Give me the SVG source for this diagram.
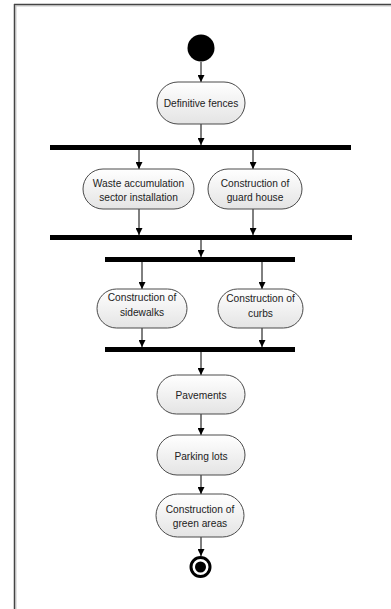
<svg xmlns="http://www.w3.org/2000/svg" width="391" height="609" viewBox="0 0 391 609">
  <style>
    .act { fill: url(#actFill); stroke: #4a4a4a; stroke-width: 1; }
    .lbl { font-family: "Liberation Sans", Arial, sans-serif; font-size: 10.2px; fill: #222; text-anchor: middle; }
    .flow { stroke: #000; stroke-width: 1; fill: none; marker-end: url(#arrow); }
    .bar { fill: #000; }
  </style>
  <defs>
    <linearGradient id="actFill" x1="0" y1="0" x2="0" y2="1">
      <stop offset="0" stop-color="#ffffff"/>
      <stop offset="1" stop-color="#e4e4e4"/>
    </linearGradient>
    <marker id="arrow" viewBox="0 0 10 10" refX="10" refY="5" markerWidth="7" markerHeight="7" markerUnits="userSpaceOnUse" orient="auto">
      <path d="M0,0 L10,5 L0,10 z" fill="#000"/>
    </marker>
  </defs>

  <rect width="391" height="609" fill="#fff"/>

  <!-- diagram frame -->
  <g id="frame">
    <line x1="16" y1="6" x2="391" y2="6" stroke="#c8c8c8" stroke-width="1"/>
    <line x1="16" y1="6" x2="16" y2="609" stroke="#c8c8c8" stroke-width="1"/>
    <line x1="14" y1="4.5" x2="391" y2="4.5" stroke="#444" stroke-width="1.5"/>
    <line x1="14.5" y1="4" x2="14.5" y2="609" stroke="#444" stroke-width="1.5"/>
  </g>

  <!-- control flows -->
  <g id="connectors">
    <line class="flow" x1="201" y1="62" x2="201" y2="82"/>
    <line class="flow" x1="201" y1="124" x2="201" y2="145"/>
    <line class="flow" x1="139" y1="150" x2="139" y2="169"/>
    <line class="flow" x1="253" y1="150" x2="253" y2="169"/>
    <line class="flow" x1="139" y1="209" x2="139" y2="235"/>
    <line class="flow" x1="253" y1="209" x2="253" y2="235"/>
    <line class="flow" x1="201" y1="240" x2="201" y2="257"/>
    <line class="flow" x1="142" y1="262" x2="142" y2="289"/>
    <line class="flow" x1="262" y1="262" x2="262" y2="289"/>
    <line class="flow" x1="142" y1="328" x2="142" y2="347"/>
    <line class="flow" x1="262" y1="328" x2="262" y2="347"/>
    <line class="flow" x1="201" y1="352" x2="201" y2="375"/>
    <line class="flow" x1="201" y1="414" x2="201" y2="435"/>
    <line class="flow" x1="201" y1="475" x2="201" y2="494"/>
    <line class="flow" x1="201" y1="537" x2="201" y2="556"/>
  </g>

  <g id="start">
    <circle cx="201" cy="48" r="13.5" fill="#000"/>
  </g>

  <g id="definitive-fences">
    <rect class="act" x="157" y="82" width="88" height="42" rx="21"/>
    <text class="lbl" x="201" y="107">Definitive fences</text>
  </g>

  <g id="fork-1"><rect class="bar" x="50" y="145" width="301" height="5"/></g>

  <g id="waste-sector">
    <rect class="act" x="83" y="169" width="111" height="40" rx="20"/>
    <text class="lbl" x="138.5" y="187">Waste accumulation</text>
    <text class="lbl" x="138.5" y="201">sector installation</text>
  </g>

  <g id="guard-house">
    <rect class="act" x="208" y="169" width="94" height="40" rx="20"/>
    <text class="lbl" x="255" y="187">Construction of</text>
    <text class="lbl" x="255" y="201">guard house</text>
  </g>

  <g id="join-1"><rect class="bar" x="50" y="235" width="302" height="5"/></g>

  <g id="fork-2"><rect class="bar" x="105" y="257" width="190" height="5"/></g>

  <g id="sidewalks">
    <rect class="act" x="97" y="289" width="90" height="39" rx="19.5"/>
    <text class="lbl" x="142" y="301">Construction of</text>
    <text class="lbl" x="142" y="316">sidewalks</text>
  </g>

  <g id="curbs">
    <rect class="act" x="218" y="289" width="85" height="39" rx="19.5"/>
    <text class="lbl" x="260.5" y="302">Construction of</text>
    <text class="lbl" x="260.5" y="317">curbs</text>
  </g>

  <g id="join-2"><rect class="bar" x="105" y="347" width="190" height="5"/></g>

  <g id="pavements">
    <rect class="act" x="157" y="375" width="88" height="39" rx="19.5"/>
    <text class="lbl" x="201" y="399">Pavements</text>
  </g>

  <g id="parking-lots">
    <rect class="act" x="157" y="435" width="88" height="40" rx="20"/>
    <text class="lbl" x="201" y="460">Parking lots</text>
  </g>

  <g id="green-areas">
    <rect class="act" x="156" y="494" width="88" height="43" rx="21.5"/>
    <text class="lbl" x="200" y="513">Construction of</text>
    <text class="lbl" x="200" y="527">green areas</text>
  </g>

  <g id="end">
    <circle cx="200.5" cy="567" r="9.5" fill="#fff" stroke="#000" stroke-width="3"/>
    <circle cx="200.5" cy="567" r="5.5" fill="#000"/>
  </g>
</svg>
